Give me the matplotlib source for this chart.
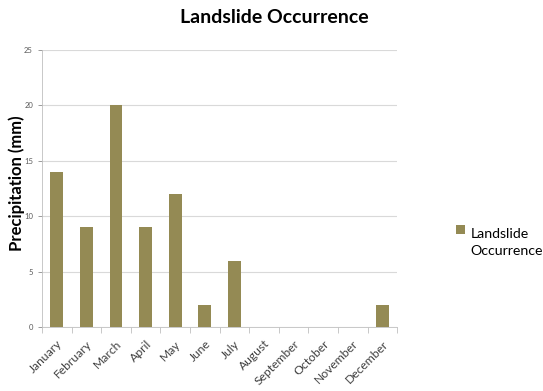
import matplotlib.pyplot as plt
import numpy as np
from matplotlib.legend_handler import HandlerPatch
from matplotlib.patches import Rectangle

months = ['January', 'February', 'March', 'April', 'May', 'June', 'July',
          'August', 'September', 'October', 'November', 'December']
occurrence = [14, 9, 20, 9, 12, 2, 6, 0, 0, 0, 0, 2]
y_ticks = [0, 5, 10, 15, 20, 25]

plt.rcParams['font.family'] = ['Lato', 'DejaVu Sans']

fig = plt.figure(figsize=(5.43, 3.91), dpi=100)
ax = fig.add_axes([0.0773, 0.1637, 0.654, 0.7085])

x = np.arange(len(months))
bars = ax.bar(x, occurrence, width=0.43, color='#948A54', zorder=3)

ax.set_xlim(-0.5, len(months) - 0.5)
ax.set_ylim(0, 25)
ax.set_yticks(y_ticks)
ax.yaxis.grid(True, color='#D9D9D9', linewidth=0.8, zorder=0)
ax.tick_params(axis='y', labelsize=5.5, colors='#8C8C8C', length=3, width=0.6,
               labelcolor='#595959')

# month labels under each bar, tick marks between categories
ax.set_xticks(x)
ax.set_xticklabels(months, rotation=45, ha='right', rotation_mode='anchor',
                   fontsize=8.7, color='#404040')
ax.tick_params(axis='x', which='major', length=0, pad=8)
ax.set_xticks(np.arange(-0.5, len(months), 1), minor=True)
ax.tick_params(axis='x', which='minor', length=4, width=0.6, colors='#BFBFBF')

for side in ['top', 'right']:
    ax.spines[side].set_visible(False)
ax.spines['left'].set_color('#BFBFBF')
ax.spines['bottom'].set_color('#BFBFBF')
ax.spines['left'].set_linewidth(0.6)
ax.spines['bottom'].set_linewidth(0.6)

ax.set_ylabel('Precipitation (mm)', fontsize=12, fontweight='bold')
ax.yaxis.set_label_coords(-0.048, 0.52)
fig.text(0.505, 0.955, 'Landslide Occurrence', ha='center', va='center',
         fontsize=14, fontweight='bold')


# legend square sits next to the first line of the label
def top_square(legend, orig_handle, xdescent, ydescent, width, height, fontsize):
    return Rectangle((-xdescent, -ydescent + 9.5), width, height)


leg = fig.legend(handler_map={Rectangle: HandlerPatch(patch_func=top_square)},
                 handles=[bars.patches[0]], labels=['Landslide\nOccurrence'],
                 loc='center left', bbox_to_anchor=(0.84, 0.38), frameon=False,
                 fontsize=10.2, handlelength=0.6, handleheight=0.6,
                 handletextpad=0.4, borderaxespad=0, borderpad=0)
leg.get_texts()[0].set_linespacing(1.45)

fig.savefig('out.png', dpi=100)
